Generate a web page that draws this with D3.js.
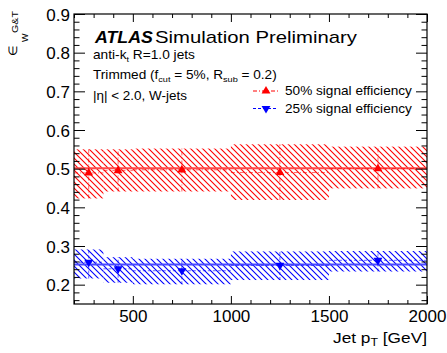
<!DOCTYPE html>
<html>
<head>
<meta charset="utf-8">
<script src="https://cdn.jsdelivr.net/npm/d3@7"></script>
<style>
  html, body { margin: 0; padding: 0; background: #fff; }
  svg { display: block; font-family: "Liberation Sans", Arial, Helvetica, sans-serif; }
</style>
</head>
<body>
<svg id="chart" width="447" height="353"></svg>
<script>
// ---- data ----
const binEdges = [200, 350, 500, 1000, 1500, 2000];
const binCenters = [275, 425, 750, 1250, 1750];
const eff50 = [0.489, 0.495, 0.497, 0.490, 0.500];
const eff50Lo = [0.423, 0.441, 0.441, 0.419, 0.449];
const eff50Hi = [0.550, 0.550, 0.552, 0.563, 0.557];
const fit50 = 0.501;
const eff25 = [0.258, 0.241, 0.236, 0.250, 0.263];
const eff25Lo = [0.216, 0.205, 0.201, 0.212, 0.234];
const eff25Hi = [0.291, 0.271, 0.267, 0.286, 0.287];
const fit25 = 0.252;
const xTicks = [500, 1000, 1500, 2000];
const yTicks = [0.2, 0.3, 0.4, 0.5, 0.6, 0.7, 0.8, 0.9];
const legendLabels = ["50% signal efficiency", "25% signal efficiency"];

const svg = d3.select("#chart");
const x = d3.scaleLinear().domain([200, 2000]).range([74, 427]);
const y = d3.scaleLinear().domain([0.15, 0.9]).range([304, 14]);

// stretch a text horizontally to a target width (anchored at ax)
function fitWidth(sel, ax, target) {
  const w = sel.node().getComputedTextLength();
  const s = target / w;
  sel.attr("transform", `translate(${ax},0) scale(${s},1) translate(${-ax},0)`);
  return sel;
}

// hatch patterns
const defs = svg.append("defs");
function hatch(id, color) {
  const p = defs.append("pattern").attr("id", id).attr("patternUnits", "userSpaceOnUse")
    .attr("width", 6).attr("height", 6);
  p.append("path").attr("d", "M0,0 L6,6 M-1,5 L1,7 M5,-1 L7,1")
    .attr("stroke", color).attr("stroke-width", 1.1).attr("fill", "none");
}
hatch("hRed", "#ff0000");
hatch("hBlue", "#0000ff");

const series = [
  { v: eff50, lo: eff50Lo, hi: eff50Hi, fit: fit50, color: "#ff0000", fitColor: "#ff4a4a", pat: "hRed", dash: "4,2,1,2", up: true },
  { v: eff25, lo: eff25Lo, hi: eff25Hi, fit: fit25, color: "#0000ff", fitColor: "#4a4aff", pat: "hBlue", dash: "3,2", up: false }
];

const plot = svg.append("g");
const bins = d3.range(binCenters.length);

series.forEach(s => {
  plot.selectAll(null).data(bins).join("rect")
    .attr("x", i => x(binEdges[i])).attr("width", i => x(binEdges[i + 1]) - x(binEdges[i]))
    .attr("y", i => y(s.hi[i])).attr("height", i => y(s.lo[i]) - y(s.hi[i]))
    .attr("fill", `url(#${s.pat})`);
});
series.forEach(s => {
  plot.append("line").attr("x1", x(200)).attr("x2", x(2000))
    .attr("y1", y(s.fit)).attr("y2", y(s.fit))
    .attr("stroke", s.fitColor).attr("stroke-width", 2);
  plot.selectAll(null).data(bins).join("line")
    .attr("x1", i => x(binEdges[i])).attr("x2", i => x(binEdges[i + 1]))
    .attr("y1", i => y(s.v[i])).attr("y2", i => y(s.v[i]))
    .attr("stroke", s.color).attr("stroke-width", 1).attr("stroke-dasharray", s.dash).attr("opacity", 0.6);
  plot.selectAll(null).data(bins).join("line")
    .attr("x1", i => x(binCenters[i])).attr("x2", i => x(binCenters[i]))
    .attr("y1", i => y(s.lo[i])).attr("y2", i => y(s.hi[i]))
    .attr("stroke", s.color).attr("stroke-width", 1).attr("stroke-dasharray", s.dash).attr("opacity", 0.6);
  const tri = d3.symbol().type(d3.symbolTriangle).size(34);
  plot.selectAll(null).data(bins).join("path")
    .attr("d", tri)
    .attr("transform", i => `translate(${x(binCenters[i])},${y(s.v[i])}) rotate(${s.up ? 0 : 180})`)
    .attr("fill", s.color);
});

// frame
svg.append("rect").attr("x", x(200)).attr("y", y(0.9))
  .attr("width", x(2000) - x(200)).attr("height", y(0.15) - y(0.9))
  .attr("fill", "none").attr("stroke", "#000").attr("stroke-width", 1.2);

// axes with inside ticks
const xMinor = d3.range(200, 2001, 100).filter(v => v % 500 !== 0);
const yMinor = d3.range(0.16, 0.901, 0.02).map(v => +v.toFixed(2)).filter(v => Math.abs(v * 10 - Math.round(v * 10)) > 1e-6);

const gxB = svg.append("g").attr("transform", `translate(0,${y(0.15)})`)
  .call(d3.axisBottom(x).tickValues(xTicks).tickSize(-8).tickPadding(6).tickFormat(d3.format("d")));
const gxBm = svg.append("g").attr("transform", `translate(0,${y(0.15)})`)
  .call(d3.axisBottom(x).tickValues(xMinor).tickSize(-4).tickFormat(""));
const gxT = svg.append("g").attr("transform", `translate(0,${y(0.9)})`)
  .call(d3.axisTop(x).tickValues(xTicks).tickSize(-8).tickFormat(""));
const gxTm = svg.append("g").attr("transform", `translate(0,${y(0.9)})`)
  .call(d3.axisTop(x).tickValues(xMinor).tickSize(-4).tickFormat(""));
const gyL = svg.append("g").attr("transform", `translate(${x(200)},0)`)
  .call(d3.axisLeft(y).tickValues(yTicks).tickSize(-11).tickPadding(4).tickFormat(d3.format(".1f")));
const gyLm = svg.append("g").attr("transform", `translate(${x(200)},0)`)
  .call(d3.axisLeft(y).tickValues(yMinor).tickSize(-5.5).tickFormat(""));
const gyR = svg.append("g").attr("transform", `translate(${x(2000)},0)`)
  .call(d3.axisRight(y).tickValues(yTicks).tickSize(-11).tickFormat(""));
const gyRm = svg.append("g").attr("transform", `translate(${x(2000)},0)`)
  .call(d3.axisRight(y).tickValues(yMinor).tickSize(-5.5).tickFormat(""));
[gxB, gxBm, gxT, gxTm, gyL, gyLm, gyR, gyRm].forEach(g => {
  g.select(".domain").remove();
  g.selectAll("line").attr("stroke", "#000").attr("stroke-width", 1);
  g.selectAll("text").attr("font-size", 17).attr("fill", "#000").attr("font-family", "Liberation Sans, Arial, sans-serif");
});
gyL.selectAll("text").attr("dy", "0.36em");

// axis titles
fitWidth(svg.append("text").attr("x", 427).attr("y", 343).attr("text-anchor", "end")
  .attr("font-size", 14)
  .html('Jet p<tspan font-size="10" dy="3">T</tspan><tspan dy="-3"> [GeV]</tspan>'), 427, 94);

svg.append("text").attr("transform", "translate(17,56) rotate(-90)").attr("font-size", 12).text("\u2208");
svg.append("text").attr("transform", "translate(18,33) rotate(-90)").attr("font-size", 9)
  .attr("textLength", 22).attr("lengthAdjust", "spacingAndGlyphs").text("G&T");
svg.append("text").attr("transform", "translate(28,42) rotate(-90)").attr("font-size", 9).text("W");

// labels
fitWidth(svg.append("text").attr("x", 95).attr("y", 43).attr("font-size", 17)
  .attr("font-weight", "bold").attr("font-style", "italic").text("ATLAS"), 95, 58);
fitWidth(svg.append("text").attr("x", 155).attr("y", 43).attr("font-size", 17).text("Simulation Preliminary"), 155, 202);
fitWidth(svg.append("text").attr("x", 93).attr("y", 59).attr("font-size", 12)
  .html('anti-k<tspan font-size="8" dy="3">t</tspan><tspan dy="-3"> R=1.0 jets</tspan>'), 93, 102);
fitWidth(svg.append("text").attr("x", 93).attr("y", 79).attr("font-size", 12)
  .html('Trimmed (f<tspan font-size="8" dy="3">cut</tspan><tspan dy="-3"> = 5%, R</tspan><tspan font-size="8" dy="3">sub</tspan><tspan dy="-3"> = 0.2)</tspan>'), 93, 184);
fitWidth(svg.append("text").attr("x", 93).attr("y", 100).attr("font-size", 12).text("|\u03b7| < 2.0, W-jets"), 93, 94);

// legend
const leg = svg.append("g");
series.forEach((s, k) => {
  const ly = 91 + k * 17.5;
  leg.append("line").attr("x1", 253).attr("x2", 278).attr("y1", ly).attr("y2", ly)
    .attr("stroke", s.color).attr("stroke-dasharray", s.dash).attr("stroke-width", 1);
  leg.append("path").attr("d", d3.symbol().type(d3.symbolTriangle).size(34))
    .attr("transform", `translate(266,${ly}) rotate(${s.up ? 0 : 180})`).attr("fill", s.color);
  fitWidth(leg.append("text").attr("x", 285).attr("y", ly + 4.5).attr("font-size", 12).text(legendLabels[k]), 285, 127);
});
</script>
</body>
</html>
